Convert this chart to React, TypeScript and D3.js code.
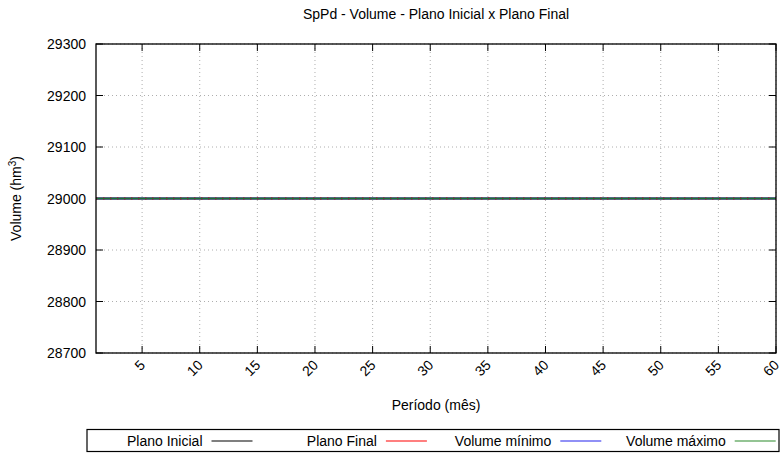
import React from "react";
import * as d3 from "d3";

const periods = [1,2,3,4,5,6,7,8,9,10,11,12,13,14,15,16,17,18,19,20,21,22,23,24,25,26,27,28,29,30,31,32,33,34,35,36,37,38,39,40,41,42,43,44,45,46,47,48,49,50,51,52,53,54,55,56,57,58,59,60];
const planoInicial = [29000,29000,29000,29000,29000,29000,29000,29000,29000,29000,29000,29000,29000,29000,29000,29000,29000,29000,29000,29000,29000,29000,29000,29000,29000,29000,29000,29000,29000,29000,29000,29000,29000,29000,29000,29000,29000,29000,29000,29000,29000,29000,29000,29000,29000,29000,29000,29000,29000,29000,29000,29000,29000,29000,29000,29000,29000,29000,29000,29000];
const planoFinal = [29000,29000,29000,29000,29000,29000,29000,29000,29000,29000,29000,29000,29000,29000,29000,29000,29000,29000,29000,29000,29000,29000,29000,29000,29000,29000,29000,29000,29000,29000,29000,29000,29000,29000,29000,29000,29000,29000,29000,29000,29000,29000,29000,29000,29000,29000,29000,29000,29000,29000,29000,29000,29000,29000,29000,29000,29000,29000,29000,29000];
const volumeMinimo = [29000,29000,29000,29000,29000,29000,29000,29000,29000,29000,29000,29000,29000,29000,29000,29000,29000,29000,29000,29000,29000,29000,29000,29000,29000,29000,29000,29000,29000,29000,29000,29000,29000,29000,29000,29000,29000,29000,29000,29000,29000,29000,29000,29000,29000,29000,29000,29000,29000,29000,29000,29000,29000,29000,29000,29000,29000,29000,29000,29000];
const volumeMaximo = [29000,29000,29000,29000,29000,29000,29000,29000,29000,29000,29000,29000,29000,29000,29000,29000,29000,29000,29000,29000,29000,29000,29000,29000,29000,29000,29000,29000,29000,29000,29000,29000,29000,29000,29000,29000,29000,29000,29000,29000,29000,29000,29000,29000,29000,29000,29000,29000,29000,29000,29000,29000,29000,29000,29000,29000,29000,29000,29000,29000];

const xTicks = [5,10,15,20,25,30,35,40,45,50,55,60];
const yTicks = [28700,28800,28900,29000,29100,29200,29300];

const seriesNames = ["Plano Inicial", "Plano Final", "Volume mínimo", "Volume máximo"];
const seriesColors = ["#000000", "#ff0000", "#2222ee", "#2a8a2a"];

const W = 783, H = 455;
const L = 96, R = 776, T = 44, B = 353;
const FONT = "'Liberation Sans', Arial, Helvetica, sans-serif";

export default function App() {
  const x = d3.scaleLinear().domain([1, 60]).range([L, R]);
  const y = d3.scaleLinear().domain([28700, 29300]).range([B, T]);
  const line = (vals: number[]) =>
    d3.line<number>().x((_, i) => x(periods[i])).y((v) => y(v))(vals) || "";

  const series = [planoInicial, planoFinal, volumeMinimo, volumeMaximo];
  const widths = [2.2, 2.6, 1.6, 1.3];
  const plotColors = ["#000000", "#ff0000", "#2222ee", "#1f6e35"];
  const tickLen = 7;

  return (
    <svg width={W} height={H} style={{ position: "absolute", left: 0, top: 0 }} fontFamily={FONT}>
      <rect x={0} y={0} width={W} height={H} fill="#fff" />
      {xTicks.map((t) => (
        <line key={"gx" + t} x1={x(t)} x2={x(t)} y1={T} y2={B} stroke="#999" strokeWidth={0.8} strokeDasharray="1,3" />
      ))}
      {yTicks.map((t) => (
        <line key={"gy" + t} x1={L} x2={R} y1={y(t)} y2={y(t)} stroke="#999" strokeWidth={0.8} strokeDasharray="1,3" />
      ))}
      {xTicks.map((t) => (
        <g key={"tx" + t}>
          <line x1={x(t)} x2={x(t)} y1={B} y2={B - tickLen} stroke="#000" strokeWidth={1} />
          <line x1={x(t)} x2={x(t)} y1={T} y2={T + tickLen} stroke="#000" strokeWidth={1} />
          <text
            transform={`translate(${x(t) + 4},${B + 13}) rotate(-45)`}
            textAnchor="end"
            fontSize={14}
            fill="#000"
          >
            {t}
          </text>
        </g>
      ))}
      {yTicks.map((t) => (
        <g key={"ty" + t}>
          <line x1={L} x2={L + tickLen} y1={y(t)} y2={y(t)} stroke="#000" strokeWidth={1} />
          <line x1={R} x2={R - tickLen} y1={y(t)} y2={y(t)} stroke="#000" strokeWidth={1} />
          <text x={L - 10} y={y(t) + 5} textAnchor="end" fontSize={14} fill="#000">
            {t}
          </text>
        </g>
      ))}
      {series.map((s, i) => (
        <path
          key={"s" + i}
          d={line(s)}
          fill="none"
          stroke={plotColors[i]}
          strokeWidth={widths[i]}
          strokeDasharray={i === 1 ? "1.5,5.5" : undefined}
        />
      ))}
      <rect x={L} y={T} width={R - L} height={B - T} fill="none" stroke="#000" strokeWidth={1.3} />
      <text x={(L + R) / 2} y={19} textAnchor="middle" fontSize={14} fill="#000">
        SpPd - Volume - Plano Inicial x Plano Final
      </text>
      <text x={(L + R) / 2} y={410} textAnchor="middle" fontSize={14} fill="#000">
        Período (mês)
      </text>
      <text transform={`translate(21,${(T + B) / 2}) rotate(-90)`} textAnchor="middle" fontSize={14} fill="#000">
        Volume (hm<tspan dy={-5} fontSize={10}>3</tspan><tspan dy={5}>)</tspan>
      </text>
      <rect x={87} y={429.5} width={692} height={22} fill="#fff" stroke="#000" strokeWidth={1.2} />
      {seriesNames.map((n, i) => {
        const ls = 211.5 + i * 174.4;
        return (
          <g key={"lg" + i}>
            <text x={ls - 9} y={446} textAnchor="end" fontSize={14} fill="#000">
              {n}
            </text>
            <line x1={ls} x2={ls + 41} y1={441} y2={441} stroke={seriesColors[i]} strokeWidth={1.2} />
          </g>
        );
      })}
    </svg>
  );
}
